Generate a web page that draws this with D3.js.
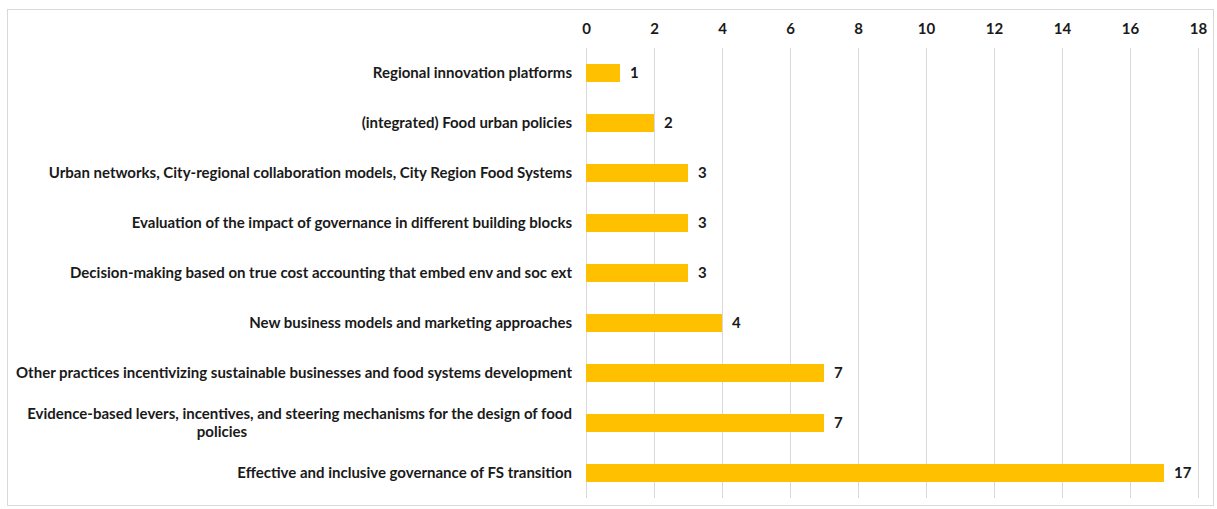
<!DOCTYPE html>
<html>
<head>
<meta charset="utf-8">
<script src="https://cdn.jsdelivr.net/npm/d3@7"></script>
<style>
  body { margin: 0; background: #fff; }
  text { font-family: Lato, "Open Sans", sans-serif; font-weight: bold; fill: #1a1a1a; }
</style>
</head>
<body>
<div id="chart"></div>
<script>
// Data
const categories = [
    ["Regional innovation platforms"],
    ["(integrated) Food urban policies"],
    ["Urban networks, City-regional collaboration models, City Region Food Systems"],
    ["Evaluation of the impact of governance in different building blocks"],
    ["Decision-making based on true cost accounting that embed env and soc ext"],
    ["New business models and marketing approaches "],
    ["Other practices incentivizing sustainable businesses and food systems development"],
    ["Evidence-based levers, incentives, and steering mechanisms for the design of food", "policies"],
    ["Effective and inclusive governance of FS transition"]
];
const values = [1, 2, 3, 3, 3, 4, 7, 7, 17];
const tickValues = [0, 2, 4, 6, 8, 10, 12, 14, 16, 18];

const W = 1217, H = 509;
const plot = { left: 586, right: 1198, top: 48, bottom: 498 };
const fontSize = 15;

const svg = d3.select("#chart").append("svg")
    .attr("width", W)
    .attr("height", H);

// Chart border
svg.append("rect")
    .attr("x", 7.5).attr("y", 9.5)
    .attr("width", 1206).attr("height", 496)
    .attr("fill", "#fff")
    .attr("stroke", "#d9d9d9");

const x = d3.scaleLinear().domain([0, 18]).range([plot.left, plot.right]);
const y = d3.scaleBand().domain(d3.range(categories.length))
    .range([plot.top, plot.bottom]).paddingInner(0.64).paddingOuter(0.32);

// Gridlines
svg.append("g")
    .selectAll("line")
    .data(tickValues)
    .join("line")
    .attr("x1", d => Math.round(x(d)) + 0.5)
    .attr("x2", d => Math.round(x(d)) + 0.5)
    .attr("y1", plot.top)
    .attr("y2", plot.bottom)
    .attr("stroke", "#d9d9d9");

// Top axis labels
const axis = svg.append("g")
    .attr("transform", `translate(0,${plot.top})`)
    .call(d3.axisTop(x).tickValues(tickValues).tickSize(0).tickPadding(14));
axis.select(".domain").remove();
axis.selectAll("text").attr("font-size", fontSize).attr("font-family", null).attr("fill", null);

// Bars
svg.append("g")
    .selectAll("rect")
    .data(values)
    .join("rect")
    .attr("x", x(0))
    .attr("y", (d, i) => y(i))
    .attr("width", d => x(d) - x(0))
    .attr("height", y.bandwidth())
    .attr("fill", "#ffc000");

// Value labels
svg.append("g")
    .selectAll("text")
    .data(values)
    .join("text")
    .attr("x", d => x(d) + 10)
    .attr("y", (d, i) => y(i) + y.bandwidth() / 2)
    .attr("dy", "0.35em")
    .attr("font-size", fontSize)
    .text(d => d);

// Category labels (second line of a wrapped label sits centred under the first)
const lineH = 18;
const labels = svg.append("g")
    .selectAll("text")
    .data(categories)
    .join("text")
    .attr("font-size", fontSize)
    .attr("y", (d, i) => y(i) + y.bandwidth() / 2 - (d.length - 1) * lineH / 2);

labels.selectAll("tspan")
    .data(d => d)
    .join("tspan")
    .attr("x", (d, j) => j === 0 ? x(0) - 14 : 222)
    .attr("text-anchor", (d, j) => j === 0 ? "end" : "middle")
    .attr("dy", (d, j) => j === 0 ? "0.35em" : lineH)
    .text(d => d);
</script>
</body>
</html>
